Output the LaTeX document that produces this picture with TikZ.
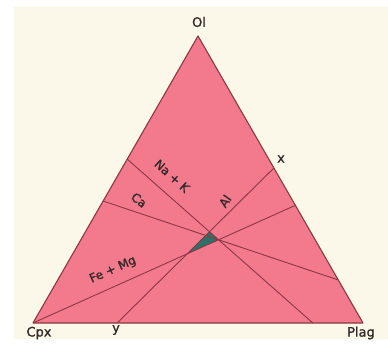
\documentclass[tikz,border=0pt]{standalone}
\usepackage{fontspec}
\setmainfont{DejaVu Sans}[FakeBold=1.2]
\usetikzlibrary{calc}
\definecolor{cream}{RGB}{252,248,233}
\definecolor{pinkfill}{RGB}{243,122,141}
\definecolor{edgecol}{RGB}{140,55,65}
\definecolor{tealfill}{RGB}{45,112,105}
\definecolor{ink}{RGB}{50,40,40}
\begin{document}
\begin{tikzpicture}[x=1pt,y=-1pt,
  lbl/.style={text=ink,font=\fontsize{13}{15}\selectfont,inner sep=0pt},
  inlbl/.style={text=ink,font=\fontsize{12}{14}\selectfont,inner sep=0pt},
  joinline/.style={draw=edgecol,line width=0.9pt},
  rim/.style={draw=edgecol,line width=1.1pt,line join=round}]
\useasboundingbox (0,0) rectangle (388,348);
\fill[white] (0,0) rectangle (388,348);
\fill[cream] (14,7) rectangle (388,339);
\coordinate (cpx) at (33,323);
\coordinate (plag) at (363,323);
\coordinate (ol) at (198,36);
\fill[pinkfill] (cpx)--(plag)--(ol)--cycle;
\coordinate (nkL) at ($(cpx)!0.571!(ol)$);
\coordinate (nkB) at ($(cpx)!0.848!(plag)$);
\coordinate (caL) at ($(cpx)!0.425!(ol)$);
\coordinate (caR) at ($(plag)!0.15!(ol)$);
\coordinate (xp) at ($(plag)!0.54!(ol)$);
\coordinate (yp) at ($(cpx)!0.255!(plag)$);
\coordinate (fmR) at ($(plag)!0.41!(ol)$);
\coordinate (t1) at (intersection of nkL--nkB and yp--xp);
\coordinate (t2) at (intersection of nkL--nkB and cpx--fmR);
\coordinate (t3) at (intersection of yp--xp and cpx--fmR);
\fill[tealfill] (t1)--(t2)--(t3)--cycle;
\draw[joinline] (nkL)--(nkB);
\draw[joinline] (caL)--(caR);
\draw[joinline] (yp)--(xp);
\draw[joinline] (cpx)--(fmR);
\draw[rim] (cpx)--(plag)--(ol)--cycle;
\node[lbl] (lol) at (199,22) {Ol};
\node[lbl] (lcpx) at (39,333) {Cpx};
\node[lbl] (ly) at (116,330) {y};
\node[lbl] (lplag) at (361,333) {Plag};
\node[lbl] (lx) at (281,159) {x};
\node[inlbl,rotate=-42] (lnk) at (172,176) {Na + K};
\node[inlbl,rotate=-38] (lca) at (139,200) {Ca};
\node[inlbl,rotate=55] (lal) at (225,201) {Al};
\node[inlbl,rotate=24] (lfm) at (113,270) {Fe + Mg};
\end{tikzpicture}
\end{document}
